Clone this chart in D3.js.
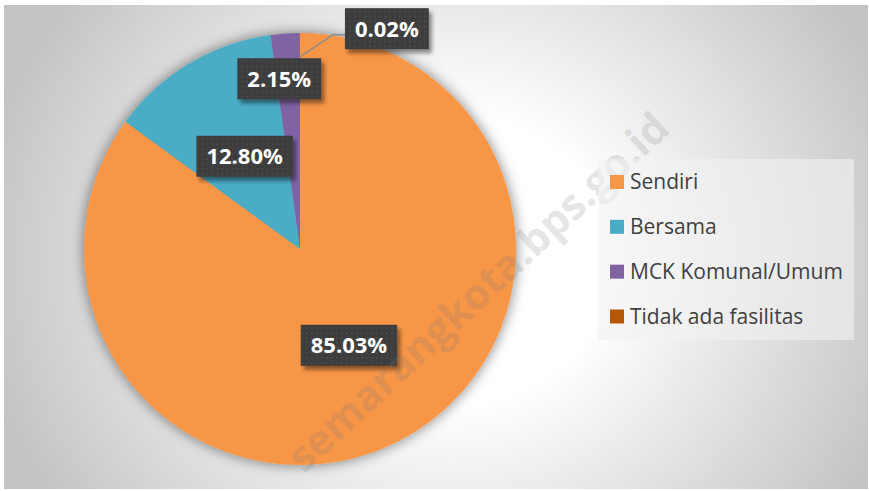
<!DOCTYPE html>
<html>
<head>
<meta charset="utf-8">
<script src="https://cdn.jsdelivr.net/npm/d3@7/dist/d3.min.js"></script>
<style>
  html, body { margin: 0; padding: 0; background: #fff; }
  svg { display: block; }
</style>
</head>
<body>
<svg id="chart"></svg>
<script>
// Data
const categories = ["Sendiri", "Bersama", "MCK Komunal/Umum", "Tidak ada fasilitas"];
const values = [85.03, 12.80, 2.15, 0.02];
const colors = ["#F79646", "#4BACC6", "#8064A2", "#B65708"];

const width = 869;
const height = 491;

const svg = d3.select("#chart")
    .attr("width", width)
    .attr("height", height);

const defs = svg.append("defs");

// background gradient (light centre, grey corners)
const bg = defs.append("radialGradient")
    .attr("id", "bgGrad")
    .attr("gradientUnits", "userSpaceOnUse")
    .attr("cx", 450).attr("cy", 260).attr("r", 480)
    .attr("gradientTransform", "translate(0,260) scale(1,0.916) translate(0,-260)");
bg.append("stop").attr("offset", 0).attr("stop-color", "#ffffff");
bg.append("stop").attr("offset", 0.33).attr("stop-color", "#ffffff");
bg.append("stop").attr("offset", 1).attr("stop-color", "#c3c3c3");

// soft glow shadow around the pie
const glow = defs.append("filter").attr("id", "pieShadow")
    .attr("x", "-20%").attr("y", "-20%").attr("width", "140%").attr("height", "140%");
glow.append("feGaussianBlur").attr("in", "SourceAlpha").attr("stdDeviation", 7).attr("result", "blur");
glow.append("feComponentTransfer").attr("in", "blur").attr("result", "soft")
    .append("feFuncA").attr("type", "linear").attr("slope", 0.5);
const gm = glow.append("feMerge");
gm.append("feMergeNode").attr("in", "soft");
gm.append("feMergeNode").attr("in", "SourceGraphic");

// drop shadow for label boxes
const drop = defs.append("filter").attr("id", "boxShadow")
    .attr("x", "-20%").attr("y", "-30%").attr("width", "150%").attr("height", "180%");
drop.append("feGaussianBlur").attr("in", "SourceAlpha").attr("stdDeviation", 2).attr("result", "b");
drop.append("feOffset").attr("in", "b").attr("dx", 3).attr("dy", 4).attr("result", "o");
drop.append("feComponentTransfer").attr("in", "o").attr("result", "s")
    .append("feFuncA").attr("type", "linear").attr("slope", 0.45);
const dm = drop.append("feMerge");
dm.append("feMergeNode").attr("in", "s");
dm.append("feMergeNode").attr("in", "SourceGraphic");

// dotted dark pattern for label boxes
const pat = defs.append("pattern").attr("id", "dots")
    .attr("patternUnits", "userSpaceOnUse").attr("width", 5).attr("height", 5);
pat.append("rect").attr("width", 5).attr("height", 5).attr("fill", "#3c3c3c");
pat.append("rect").attr("x", 2).attr("y", 2).attr("width", 1.6).attr("height", 1.6).attr("fill", "#505050");

// chart area
svg.append("rect")
    .attr("x", 4).attr("y", 5)
    .attr("width", 864).attr("height", 484)
    .attr("fill", "url(#bgGrad)");

// Pie
const cx = 300, cy = 249, radius = 216;
const pie = d3.pie().sort(null).value(d => d);
const arcs = pie(values);
const arc = d3.arc().innerRadius(0).outerRadius(radius);

const g = svg.append("g").attr("transform", `translate(${cx},${cy})`);
g.append("g").attr("filter", "url(#pieShadow)")
  .selectAll("path")
  .data(arcs)
  .enter().append("path")
    .attr("d", arc)
    .attr("fill", (d, i) => colors[i]);

// watermark
svg.append("text")
    .attr("transform", "translate(478,292) rotate(-43)")
    .attr("text-anchor", "middle")
    .attr("dy", "0.35em")
    .style("font-family", "'Open Sans', sans-serif")
    .style("font-weight", "bold")
    .style("font-size", "42px")
    .attr("fill", "#7a7a7a")
    .attr("fill-opacity", 0.2)
    .text("semarangkota.bps.go.id");

// data labels: radius factor along slice mid-angle plus a sideways nudge
const labelLayout = [
    { k: 0.5, dx: 0 },
    { k: 0.5, dx: 0 },
    { k: 0.79, dx: -9 },
    { k: 1.02, dx: 87, leader: 0.89 }
];

const labelG = g.append("g");
arcs.forEach((d, i) => {
    const mid = (d.startAngle + d.endAngle) / 2;
    const L = labelLayout[i];
    const lx = Math.sin(mid) * radius * L.k + L.dx;
    const ly = -Math.cos(mid) * radius * L.k;
    const txt = values[i].toFixed(2) + "%";

    const lab = labelG.append("g").attr("transform", `translate(${lx},${ly})`);
    const t = lab.append("text")
        .attr("text-anchor", "middle")
        .attr("dy", "0.36em")
        .style("font-family", "'Open Sans', sans-serif")
        .style("font-weight", "bold")
        .style("font-size", "22px")
        .attr("fill", "#ffffff")
        .text(txt);
    const w = t.node().getComputedTextLength() + 20;
    const h = 41;
    lab.insert("rect", "text")
        .attr("x", -w / 2).attr("y", -h / 2)
        .attr("width", w).attr("height", h)
        .attr("fill", "url(#dots)")
        .attr("filter", "url(#boxShadow)");

    if (L.leader) {
        const sx = Math.sin(mid) * radius * L.leader;
        const sy = -Math.cos(mid) * radius * L.leader;
        const ex = lx - w / 2;
        const ey = ly + 6;
        labelG.insert("polyline", ":first-child")
            .attr("points", [[sx, sy], [ex - 12, ey], [ex, ey]].map(p => p.join(",")).join(" "))
            .attr("fill", "none")
            .attr("stroke", "#8c8c8c")
            .attr("stroke-width", 1.5);
    }
});

// Legend
const legend = svg.append("g");
legend.append("rect")
    .attr("x", 598).attr("y", 159)
    .attr("width", 256).attr("height", 181)
    .attr("fill", "#f2f2f2")
    .attr("fill-opacity", 0.6);

const legendY = d3.scalePoint()
    .domain(categories)
    .range([182, 316.5]);

const items = legend.selectAll("g.item")
    .data(categories)
    .enter().append("g")
    .attr("class", "item")
    .attr("transform", d => `translate(610,${legendY(d)})`);

items.append("rect")
    .attr("x", 0).attr("y", -7)
    .attr("width", 14).attr("height", 14)
    .attr("fill", (d, i) => colors[i]);

items.append("text")
    .attr("x", 20)
    .attr("dy", "0.35em")
    .style("font-family", "'Open Sans', sans-serif")
    .style("font-size", "21px")
    .attr("fill", "#404040")
    .text(d => d);
</script>
</body>
</html>
